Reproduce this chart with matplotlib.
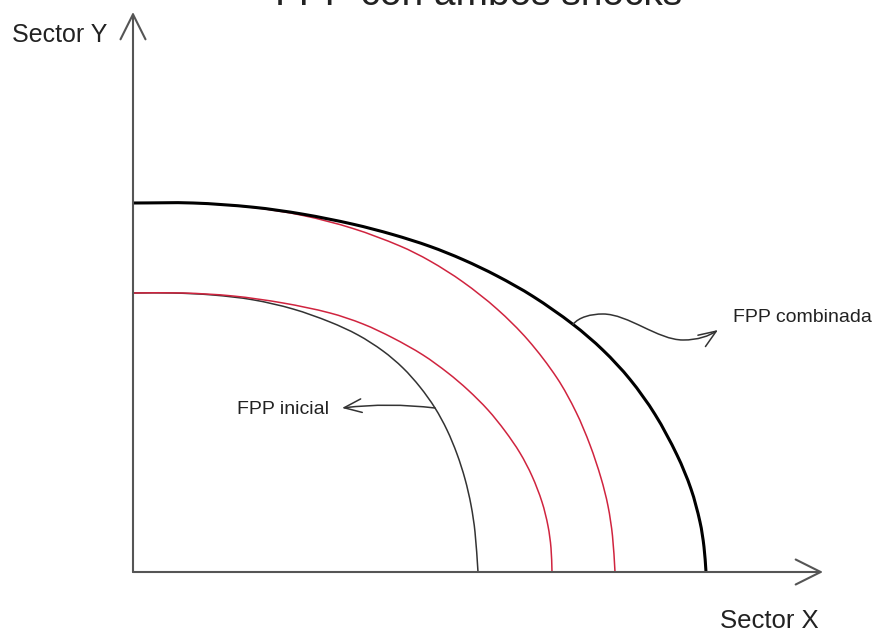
import matplotlib
matplotlib.use("Agg")
import matplotlib.pyplot as plt
from matplotlib.patches import FancyArrowPatch, PathPatch
from matplotlib.path import Path

plt.rcParams["font.family"] = ["Liberation Sans", "DejaVu Sans"]

# curves (arbitrary units)
fpp_combinada_x = [0, 6, 12, 17, 22, 26, 29.7, 33, 36.4, 40, 44.0, 47, 49.7, 52.2, 54.4, 55.8, 56.7, 57.1, 57.3]
fpp_combinada_y = [36.9, 36.9, 36.48, 35.78, 34.78, 33.74, 32.56, 31.24, 29.61, 27.56, 24.76, 22.18, 19.26,
                   15.76, 11.7, 8.3, 5.0, 2.5, 0]

shock_b_x = [0, 6, 12, 17, 22, 26.7, 29.7, 33, 36.4, 39.5, 42.4, 44.3, 45.7, 46.8, 47.5, 47.95, 48.2]
shock_b_y = [36.9, 36.9, 36.45, 35.65, 34.35, 32.6, 31.1, 29.0, 26.3, 23.2, 19.4, 16.0, 12.7, 9.4, 6.6, 3.6, 0]

shock_a_x = [0, 5, 10, 15, 19.7, 23, 26, 29, 31.5, 33.5, 35.5, 37.2, 38.7, 39.9, 40.9, 41.5, 41.8, 41.9]
shock_a_y = [27.9, 27.9, 27.6, 26.9, 25.9, 24.8, 23.4, 21.7, 19.9, 18.2, 16.2, 14.1, 11.9, 9.6, 7.0, 4.6, 2.4, 0]

fpp_inicial_x = [0, 4, 8, 12, 16, 19.7, 22.5, 25, 27, 28.7, 30.2, 31.4, 32.4, 33.2, 33.8, 34.2, 34.5]
fpp_inicial_y = [27.9, 27.9, 27.7, 27.22, 26.3, 25.0, 23.7, 22.1, 20.4, 18.5, 16.4, 14.2, 11.8, 9.3, 6.7, 4.0, 0]

x_axis_end = 69.0
y_axis_end = 56.0


def smooth_path(xs, ys):
    # chord-length catmull-rom through the read points, as cubic bezier segments
    pts = list(zip(xs, ys))
    n = len(pts)
    t = [0.0]
    for i in range(1, n):
        dx = pts[i][0] - pts[i - 1][0]
        dy = pts[i][1] - pts[i - 1][1]
        t.append(t[-1] + (dx * dx + dy * dy) ** 0.5)
    tang = []
    for i in range(n):
        a, b = max(i - 1, 0), min(i + 1, n - 1)
        dt = t[b] - t[a]
        tang.append(((pts[b][0] - pts[a][0]) / dt, (pts[b][1] - pts[a][1]) / dt))
    verts = [pts[0]]
    codes = [Path.MOVETO]
    for i in range(n - 1):
        h = (t[i + 1] - t[i]) / 3
        c1 = (pts[i][0] + tang[i][0] * h, pts[i][1] + tang[i][1] * h)
        c2 = (pts[i + 1][0] - tang[i + 1][0] * h, pts[i + 1][1] - tang[i + 1][1] * h)
        verts += [c1, c2, pts[i + 1]]
        codes += [Path.CURVE4] * 3
    return Path(verts, codes)


fig = plt.figure(figsize=(8.79, 6.35), dpi=100)
ax = fig.add_axes([0, 0, 1, 1])
ax.set_xlim(-13.3, 74.6)
ax.set_ylim(-6.3, 57.2)
ax.axis("off")

red = "#d0243f"
curves = [
    (fpp_inicial_x, fpp_inicial_y, "#333333", 1.1),
    (shock_a_x, shock_a_y, red, 1.1),
    (shock_b_x, shock_b_y, red, 1.1),
    (fpp_combinada_x, fpp_combinada_y, "black", 2.2),
]
for xs, ys, col, lw in curves:
    ax.add_patch(PathPatch(smooth_path(xs, ys), fill=False, edgecolor=col, lw=lw,
                           capstyle="butt"))

# axes with open arrow heads
for end in [(x_axis_end, 0), (0, y_axis_end)]:
    ax.add_patch(FancyArrowPatch((0, 0), end, arrowstyle="->,head_length=0.9,head_width=0.45",
                                 mutation_scale=20, color="#555555", lw=1.5,
                                 shrinkA=0, shrinkB=0))

ax.text(-12.1, 53.7, "Sector Y", fontsize=18, color="#222222", ha="left", va="center")
ax.text(63.6, -4.9, "Sector X", fontsize=18.5, color="#222222", ha="center", va="center")

# label arrows
ax.add_patch(FancyArrowPatch((30.2, 16.4), (20.9, 16.4), arrowstyle="->,head_length=0.9,head_width=0.35",
                             mutation_scale=14, color="#333333", lw=1.1,
                             connectionstyle="arc3,rad=0.06", shrinkA=0, shrinkB=0))
ax.text(10.4, 16.2, "FPP inicial", fontsize=14, color="#222222", ha="left", va="center")

wave = Path([(44.0, 24.76),
             (44.6, 25.5), (45.8, 25.8), (47.0, 25.8),
             (49.5, 25.8), (52.5, 23.2), (55.0, 23.2),
             (56.5, 23.2), (57.6, 23.6), (58.5, 24.2)],
            [Path.MOVETO] + [Path.CURVE4] * 9)
ax.add_patch(FancyArrowPatch(path=wave, arrowstyle="->,head_length=0.9,head_width=0.35",
                             mutation_scale=14, color="#333333", lw=1.1))
ax.text(60.0, 25.4, "FPP combinada", fontsize=14, color="#222222", ha="left", va="center")

fig.text(0.545, 1 - 5 / 635, "FPP con ambos shocks", fontsize=28, color="#222222",
         ha="center", va="baseline")

fig.savefig("out.png", dpi=100)
